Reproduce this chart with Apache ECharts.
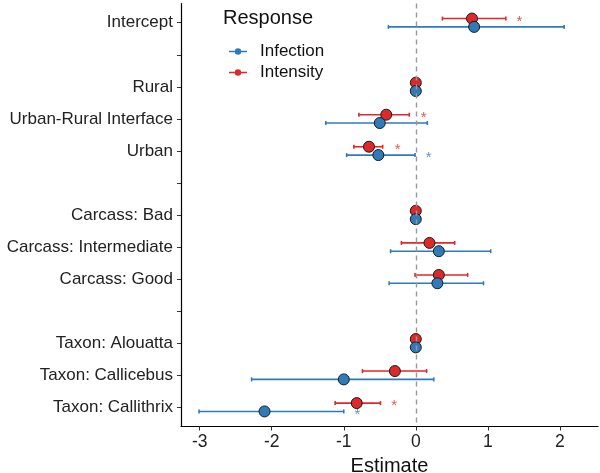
<!DOCTYPE html>
<html>
<head>
<meta charset="utf-8">
<script src="https://cdn.jsdelivr.net/npm/echarts@6/dist/echarts.min.js"></script>
<style>
  html, body { margin: 0; padding: 0; background: #fff; }
  #chart { width: 600px; height: 473px; }
</style>
</head>
<body>
<div id="chart"></div>
<script>
// y rows, top to bottom; empty strings are spacer rows
const categories = [
  'Intercept', '', 'Rural', 'Urban-Rural Interface', 'Urban', '',
  'Carcass: Bad', 'Carcass: Intermediate', 'Carcass: Good', '',
  'Taxon: Alouatta', 'Taxon: Callicebus', 'Taxon: Callithrix'
];
const xTicks = [-3, -2, -1, 0, 1, 2];

const infectionEst  = [0.81, null, 0, -0.50, -0.52, null, 0, 0.32, 0.30, null, 0, -1.00, -2.10];
const infectionLow  = [-0.38, null, 0, -1.25, -0.96, null, 0, -0.35, -0.37, null, 0, -2.28, -3.01];
const infectionHigh = [2.06, null, 0, 0.16, -0.01, null, 0, 1.04, 0.94, null, 0, 0.25, -1.00];
const infectionStar = [null, null, null, null, 0.18, null, null, null, null, null, null, null, -0.81];

const intensityEst  = [0.78, null, 0, -0.41, -0.65, null, 0, 0.19, 0.32, null, 0, -0.29, -0.82];
const intensityLow  = [0.37, null, 0, -0.79, -0.86, null, 0, -0.20, -0.01, null, 0, -0.74, -1.12];
const intensityHigh = [1.25, null, 0, -0.09, -0.46, null, 0, 0.54, 0.72, null, 0, 0.15, -0.49];
const intensityStar = [1.44, null, null, 0.11, -0.25, null, null, null, null, null, null, null, -0.30];

const BLUE = '#2F7BBA';
const RED = '#DC2A2A';
const FONT = 'Liberation Sans, Arial, sans-serif';
const DODGE = 0.13;

function rows(values, offset) {
  return values.map((v, i) => v == null ? null : [v, i + offset]).filter(Boolean);
}

function barRows(low, high, offset) {
  return low.map((v, i) => v == null ? null : [v, high[i], i + offset]).filter(Boolean);
}

function renderErrorBar(params, api) {
  const a = api.coord([api.value(0), api.value(2)]);
  const b = api.coord([api.value(1), api.value(2)]);
  const style = { stroke: api.visual('color'), lineWidth: 1.6 };
  const cap = 2;
  return {
    type: 'group',
    children: [
      { type: 'line', shape: { x1: a[0], y1: a[1], x2: b[0], y2: b[1] }, style },
      { type: 'line', shape: { x1: a[0], y1: a[1] - cap, x2: a[0], y2: a[1] + cap }, style },
      { type: 'line', shape: { x1: b[0], y1: b[1] - cap, x2: b[0], y2: b[1] + cap }, style }
    ]
  };
}

function starSeries(values, offset, color) {
  return {
    type: 'scatter',
    data: rows(values, offset),
    symbolSize: 1,
    itemStyle: { color: 'transparent' },
    silent: true,
    label: {
      show: true,
      position: 'inside',
      formatter: '*',
      color: color,
      fontSize: 15,
      fontFamily: FONT,
      offset: [0, 3]
    },
    z: 5
  };
}

const legendIcon = 'path://M0,4.2H18V5.8H0Z M12.2,5A3.2,3.2 0 1 1 5.8,5A3.2,3.2 0 1 1 12.2,5Z';

const chart = echarts.init(document.getElementById('chart'), null, { renderer: 'canvas' });
chart.setOption({
  backgroundColor: '#fff',
  animation: false,
  textStyle: { fontFamily: FONT },
  title: {
    text: 'Response',
    left: 218,
    top: 3,
    textStyle: { fontSize: 20, fontWeight: 'normal', color: '#111', fontFamily: FONT }
  },
  legend: {
    orient: 'vertical',
    left: 224,
    top: 38,
    itemGap: 4,
    itemWidth: 18,
    itemHeight: 6.4,
    icon: legendIcon,
    itemStyle: { borderWidth: 0 },
    textStyle: { fontSize: 17, color: '#111', fontFamily: FONT, padding: [0, 0, 0, 8] },
    data: ['Infection', 'Intensity']
  },
  grid: { left: 181, right: 2, top: 3.5, bottom: 46.5, containLabel: false, outerBoundsMode: 'none' },
  xAxis: {
    type: 'value',
    min: -3.26,
    max: 2.53,
    name: 'Estimate',
    nameLocation: 'middle',
    nameGap: 28,
    nameTextStyle: { fontSize: 20, color: '#111', fontFamily: FONT },
    axisLine: { onZero: false, lineStyle: { color: '#000', width: 1.2 } },
    axisTick: { show: true, length: 4, lineStyle: { color: '#333', width: 1 }, customValues: xTicks },
    axisLabel: { fontSize: 17.5, color: '#222', margin: 7, customValues: xTicks, fontFamily: FONT },
    splitLine: { show: false }
  },
  yAxis: {
    type: 'value',
    inverse: true,
    min: -0.6,
    max: 12.6,
    axisLine: { show: true, onZero: false, lineStyle: { color: '#000', width: 1.2 } },
    axisTick: { show: true, length: 4, lineStyle: { color: '#333', width: 1 }, customValues: categories.map((c, i) => i) },
    axisLabel: {
      fontSize: 17,
      color: '#222',
      margin: 8,
      fontFamily: FONT,
      customValues: categories.map((c, i) => i),
      formatter: v => categories[Math.round(v)] || ''
    },
    splitLine: { show: false }
  },
  series: [
    {
      name: 'Infection',
      type: 'custom',
      renderItem: renderErrorBar,
      data: barRows(infectionLow, infectionHigh, DODGE),
      encode: { x: [0, 1], y: 2 },
      itemStyle: { color: BLUE },
      z: 2,
      markLine: {
        silent: true,
        symbol: 'none',
        label: { show: false },
        lineStyle: { color: '#999', type: [5, 4], width: 1.4 },
        data: [{ xAxis: 0 }]
      }
    },
    {
      name: 'Intensity',
      type: 'custom',
      renderItem: renderErrorBar,
      data: barRows(intensityLow, intensityHigh, -DODGE),
      encode: { x: [0, 1], y: 2 },
      itemStyle: { color: RED },
      z: 2
    },
    {
      name: 'Intensity',
      type: 'scatter',
      data: rows(intensityEst, -DODGE),
      symbolSize: 11,
      itemStyle: { color: RED, borderColor: '#1a1a1a', borderWidth: 1, opacity: 1 },
      z: 3
    },
    {
      name: 'Infection',
      type: 'scatter',
      data: rows(infectionEst, DODGE),
      symbolSize: 11,
      itemStyle: { color: BLUE, borderColor: '#1a1a1a', borderWidth: 1, opacity: 1 },
      z: 4
    },
    starSeries(intensityStar, -DODGE, RED),
    starSeries(infectionStar, DODGE, BLUE)
  ]
});

window.addEventListener('resize', () => chart.resize());
</script>
</body>
</html>
